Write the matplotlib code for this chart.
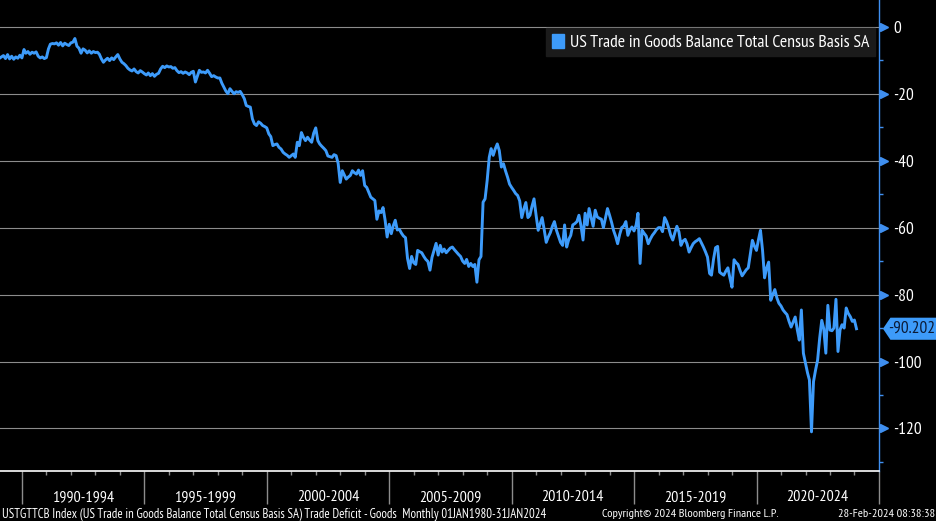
import pandas as pd
import numpy as np
import matplotlib
matplotlib.use("Agg")
import matplotlib.pyplot as plt
from matplotlib.patches import Patch, Polygon
from matplotlib.transforms import ScaledTranslation

# monthly US trade in goods balance, USD bn, Jan 1989 - Jan 2024
v1989 = [-9.4, -9.0, -8.6, -9.5, -8.3, -9.6, -8.8, -9.7, -9.0, -9.4, -8.5, -9.3]
v1990 = [-6.8, -7.9, -7.4, -8.2, -7.6, -7.9, -7.5, -8.8, -9.3, -9.0, -9.5, -9.2]
v1991 = [-6.6, -5.2, -5.0, -5.1, -4.8, -5.5, -4.7, -5.7, -4.9, -5.3, -5.6, -4.8]
v1992 = [-4.6, -3.5, -5.8, -6.4, -7.9, -6.6, -7.0, -7.8, -7.2, -7.9, -7.4, -7.7]
v1993 = [-7.6, -8.2, -9.6, -10.6, -9.9, -9.4, -10.1, -9.3, -9.8, -9.0, -8.3, -9.6]
v1994 = [-10.6, -11.0, -11.6, -12.4, -12.9, -13.2, -12.6, -13.4, -13.8, -13.1, -13.5, -14.0]
v1995 = [-14.4, -13.8, -14.6, -14.0, -14.8, -14.2, -13.9, -12.6, -11.8, -12.2, -11.7, -12.0]
v1996 = [-11.9, -12.4, -12.2, -13.1, -13.7, -13.4, -13.9, -13.5, -13.8, -14.3, -13.6, -13.3]
v1997 = [-16.5, -14.8, -13.0, -13.6, -13.5, -13.8, -13.0, -13.9, -14.9, -14.6, -15.0, -15.3]
v1998 = [-15.3, -16.8, -18.0, -19.2, -20.0, -18.5, -19.3, -20.0, -19.4, -19.6, -19.3, -20.3]
v1999 = [-21.5, -23.5, -23.8, -24.0, -27.5, -29.0, -29.5, -28.4, -28.8, -29.5, -29.8, -30.2]
v2000 = [-32.0, -32.8, -35.5, -35.2, -35.0, -36.0, -36.5, -37.5, -38.0, -38.4, -39.0, -38.5]
v2001 = [-38.0, -39.0, -34.5, -35.5, -31.6, -33.0, -34.0, -33.0, -33.8, -34.5, -31.8, -30.2]
v2002 = [-34.0, -35.0, -35.7, -36.3, -37.0, -38.6, -38.8, -39.0, -38.2, -38.5, -40.8, -46.5]
v2003 = [-43.0, -44.2, -45.5, -44.9, -44.4, -43.0, -43.6, -44.0, -42.8, -44.4, -43.0, -47.4]
v2004 = [-48.0, -49.4, -50.9, -51.4, -51.9, -57.5, -55.0, -55.5, -54.0, -57.8, -62.8, -59.0]
v2005 = [-61.8, -59.5, -57.8, -60.7, -60.5, -61.6, -62.5, -63.0, -69.2, -72.2, -68.6, -70.5]
v2006 = [-71.0, -66.8, -67.2, -67.5, -68.6, -69.5, -70.1, -72.7, -68.9, -66.8, -64.7, -68.2]
v2007 = [-65.3, -67.3, -66.4, -67.5, -66.8, -66.1, -65.8, -66.6, -67.3, -68.0, -68.6, -70.0]
v2008 = [-70.7, -69.5, -71.6, -70.7, -71.6, -71.0, -76.3, -69.6, -68.6, -52.4, -51.4, -45.9]
v2009 = [-39.0, -36.4, -38.4, -36.5, -35.0, -37.0, -41.9, -40.9, -43.0, -44.9, -47.0, -48.0]
v2010 = [-48.9, -49.8, -50.4, -52.0, -57.0, -54.5, -52.5, -57.0, -56.3, -53.6, -51.4, -56.3]
v2011 = [-60.8, -59.0, -57.0, -60.5, -64.4, -62.8, -61.5, -59.6, -58.2, -60.8, -62.6, -64.4]
v2012 = [-65.3, -59.2, -65.8, -63.6, -62.3, -59.2, -58.8, -58.2, -56.3, -59.5, -63.7, -55.7]
v2013 = [-59.2, -54.3, -57.0, -59.6, -54.8, -56.8, -57.2, -57.5, -60.0, -57.1, -54.3, -56.3]
v2014 = [-58.5, -60.8, -62.6, -64.8, -62.0, -60.0, -59.5, -58.2, -62.3, -60.7, -59.8, -61.0]
v2015 = [-59.2, -55.7, -70.7, -60.8, -61.7, -62.5, -64.8, -63.4, -62.3, -61.5, -60.6, -60.0]
v2016 = [-60.0, -61.2, -57.0, -58.2, -60.1, -62.3, -63.7, -61.5, -59.6, -61.3, -65.3, -64.0]
v2017 = [-63.5, -64.8, -67.3, -66.0, -64.8, -64.2, -63.8, -63.3, -64.5, -65.8, -67.2, -68.8]
v2018 = [-73.7, -74.2, -69.4, -66.0, -65.6, -73.3, -73.8, -74.2, -73.0, -72.0, -75.0, -77.8]
v2019 = [-69.6, -70.4, -71.0, -72.8, -74.4, -73.5, -72.6, -72.0, -68.0, -63.8, -65.5, -66.8]
v2020 = [-63.5, -60.8, -66.8, -75.0, -72.0, -70.3, -81.7, -80.0, -78.5, -81.0, -82.6, -83.4]
v2021 = [-84.6, -85.3, -86.0, -88.0, -89.7, -88.2, -86.7, -90.5, -93.6, -84.6, -97.5, -100.5]
v2022 = [-103.4, -105.5, -121.0, -106.0, -102.5, -99.6, -93.0, -87.7, -90.2, -97.5, -83.2, -90.6]
v2023 = [-90.8, -90.0, -81.4, -97.0, -90.5, -89.0, -90.0, -84.0, -85.6, -86.6, -88.0, -87.6]
v2024 = [-90.202]

values = (v1989 + v1990 + v1991 + v1992 + v1993 + v1994 + v1995 + v1996 + v1997
          + v1998 + v1999 + v2000 + v2001 + v2002 + v2003 + v2004 + v2005 + v2006
          + v2007 + v2008 + v2009 + v2010 + v2011 + v2012 + v2013 + v2014 + v2015
          + v2016 + v2017 + v2018 + v2019 + v2020 + v2021 + v2022 + v2023 + v2024)
# month-end dates
dates = pd.date_range("1989-02-01", periods=len(values), freq="MS") - pd.Timedelta(days=1)

periods = ["1990-1994", "1995-1999", "2000-2004", "2005-2009",
           "2010-2014", "2015-2019", "2020-2024"]
yticks = [0, -20, -40, -60, -80, -100, -120]
yminor = [-10, -30, -50, -70, -90, -110, -130]
series_name = "US Trade in Goods Balance Total Census Basis SA"
footer_left = ("USTGTTCB Index (US Trade in Goods Balance Total Census Basis SA) "
               "Trade Deficit - Goods  Monthly 01JAN1980-31JAN2024")
footer_mid = "Copyright\u00a9 2024 Bloomberg Finance L.P."
footer_right = "28-Feb-2024 08:38:38"

blue = "#3d9bfa"
axblue = "#3f8ff0"
gray = "#8c8c8c"

plt.rcParams['font.family'] = ['PT Sans Narrow', 'DejaVu Sans']
plt.rcParams['axes.unicode_minus'] = False

fig = plt.figure(figsize=(9.37, 5.21), dpi=100, facecolor="black")
ax = fig.add_axes([0, 50 / 521, 879 / 937, 471 / 521], facecolor="black")

ax.plot(dates, values, color=blue, lw=2.1, solid_joinstyle="round", zorder=3)

# y axis on the right
ax.yaxis.tick_right()
ax.set_yticks(yticks)
ax.set_yticks(yminor, minor=True)
ax.set_yticklabels([str(t) for t in yticks])
ax.tick_params(axis="y", which="major", length=0, pad=10, labelsize=12.5, labelcolor="white")
ax.tick_params(axis="y", which="minor", length=3, color=axblue, width=1)
ax.grid(axis="y", which="major", color=gray, lw=0.8)
tri_tr = ax.get_yaxis_transform() + ScaledTranslation(3.5 / 72, 0, fig.dpi_scale_trans)
ax.plot([1] * len(yticks), yticks, ">", ms=6, color=axblue, mec=axblue,
        transform=tri_tr, clip_on=False, zorder=5)

# x axis: 5 year blocks
major_x = [pd.Timestamp(f"{y}-01-01") for y in range(1990, 2026, 5)]
minor_x = [pd.Timestamp(f"{y}-01-01") for y in range(1990, 2025)]
ax.set_xticks(major_x)
ax.set_xticks(minor_x, minor=True)
ax.tick_params(axis="x", which="major", length=24, color=gray, width=1, labelbottom=False)
ax.tick_params(axis="x", which="minor", length=3, color=gray, width=1)
for i, p in enumerate(periods):
    mid = pd.Timestamp(f"{1990 + 5 * i + 2}-07-01")
    ax.text(mid, -0.055, p, transform=ax.get_xaxis_transform(), ha="center",
            va="center", color="white", fontsize=11.5)

ax.set_xlim(pd.Timestamp("1989-02-07"), pd.Timestamp("2025-01-01"))
ax.set_ylim(-132.7, 8.0)

for s in ["top", "left"]:
    ax.spines[s].set_visible(False)
ax.spines["bottom"].set_color("white")
ax.spines["bottom"].set_linewidth(1.2)
ax.spines["right"].set_color(axblue)
ax.spines["right"].set_linewidth(1)

# last value tag
last = values[-1]
h = 3.3
tag = Polygon([(1.0045, last), (1.013, last + h), (1.07, last + h),
               (1.07, last - h), (1.013, last - h)], closed=True,
              transform=ax.get_yaxis_transform(), facecolor=blue, edgecolor="none",
              clip_on=False, zorder=6)
ax.add_patch(tag)
ax.text(1.0375, last, f"{last:.3f}", transform=ax.get_yaxis_transform(), ha="center",
        va="center", color="#0b1b36", fontsize=12.5, zorder=7, clip_on=False)

leg = ax.legend(handles=[Patch(facecolor=blue, edgecolor=blue, label=series_name)],
                loc="upper right", bbox_to_anchor=(0.9955, 0.94), borderaxespad=0,
                fontsize=12.8, handlelength=0.7, handleheight=0.9, handletextpad=0.35,
                frameon=True, fancybox=False, facecolor="#1b1b1b", edgecolor="#1b1b1b",
                framealpha=1, borderpad=0.3)
for t in leg.get_texts():
    t.set_color("white")
leg.set_zorder(10)

fig.text(0.002, 0.0134, footer_left, color="white", fontsize=9.2, ha="left", va="center")
fig.text(0.643, 0.0134, footer_mid, color="white", fontsize=8.8, ha="left", va="center")
fig.text(0.998, 0.0134, footer_right, color="white", fontsize=8.8, ha="right", va="center")

fig.savefig("out.png", dpi=100, facecolor="black")
